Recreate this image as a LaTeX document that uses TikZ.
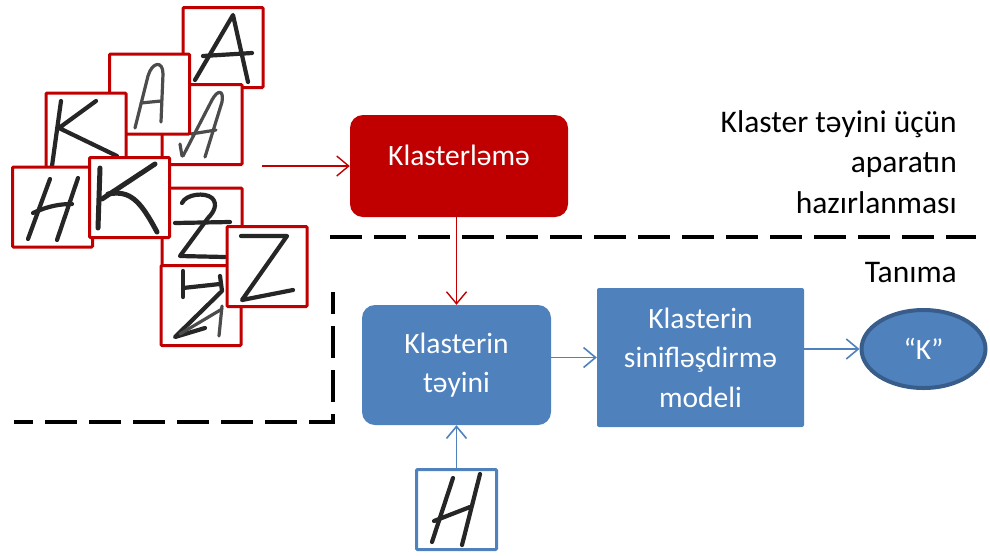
\documentclass[tikz,border=0pt]{standalone}
\usepackage{fontspec}
\setmainfont{Carlito}
\usetikzlibrary{arrows.meta,shapes.geometric}
\definecolor{boxred}{HTML}{C00000}
\definecolor{boxblue}{HTML}{4F81BD}
\definecolor{rimblue}{HTML}{385D8A}
\begin{document}
\begin{tikzpicture}[x=1pt,y=-1pt,
  every node/.style={font=\fontsize{29.5}{39.5}\selectfont},
  tile/.style={draw=boxred, line width=3pt, fill=white, minimum width=80pt,
    minimum height=80pt, inner sep=0pt, rounded corners=1pt},
  bluetile/.style={tile, draw=boxblue},
  ink/.style={line width=4.2pt, line cap=round, line join=round, black!85},
  faint ink/.style={ink, line width=3.2pt, black!70},
  redarrow/.style={draw=boxred, line width=1.4pt,
    -{Straight Barb[length=12pt,width=20pt,line width=1.4pt]}},
  bluearrow/.style={draw=boxblue, line width=1.6pt,
    -{Straight Barb[length=12pt,width=20pt,line width=1.6pt]}},
  redbox/.style={fill=boxred, rounded corners=13pt, inner sep=0pt,
    minimum width=218pt, minimum height=102pt},
  bluebox/.style={fill=boxblue, rounded corners=13pt, inner sep=0pt,
    minimum width=189pt, minimum height=120pt, text=white, align=center},
  modelbox/.style={fill=boxblue, rounded corners=2pt, inner sep=0pt,
    minimum width=207pt, minimum height=139pt, text=white, align=center},
  result/.style={ellipse, fill=boxblue, draw=rimblue, line width=4pt,
    inner sep=0pt, minimum width=124pt, minimum height=78pt, text=white},
  note/.style={inner sep=0pt, anchor=base east, align=right,
    font=\fontsize{31.5}{40.5}\selectfont},
  border/.style={line width=4.5pt, dash pattern=on 32pt off 12pt}
]
\useasboundingbox (0,0) rectangle (990,555);

% sample tiles of handwritten characters
\node[tile] (atop) at (223,47.5) {};
\draw[ink] (195,80) -- (233,15) -- (248,82);
\draw[ink] (203,56) -- (252,53);

\node[tile] (a3) at (202,124.5) {};
\draw[faint ink] (183,156) -- (212,100) .. controls (218,89) and (224,90) .. (222,102) -- (205,157);
\draw[faint ink] (191,134) -- (216,130);
\draw[faint ink] (180,144) -- (182,156);

\node[tile] (a2) at (149.5,94) {};
\draw[faint ink] (135,128) -- (148,76) .. controls (152,62) and (163,60) .. (163,74) -- (161,122);
\draw[faint ink] (141,103) -- (161,101);

\node[tile] (k1) at (86,133) {};
\draw[ink] (61,101) -- (52,166);
\draw[ink] (96,101) -- (59,128) -- (117,156);

\node[tile] (k2) at (52.5,207) {};
\draw[ink] (50,179) -- (28,239);
\draw[ink] (78,178) -- (57,240);
\draw[ink] (33,213) .. controls (48,206) and (60,204) .. (72,204);

\node[tile] (z1) at (202,228) {};
\draw[ink] (182,203) .. controls (186,194) and (205,192) .. (212,198)
  .. controls (218,204) and (214,212) .. (208,218) -- (180,256) -- (225,257);
\draw[ink] (175,223) -- (230,222);

\node[tile] (k3) at (129.5,197.5) {};
\draw[ink, line width=5pt] (100,168) -- (98,228);
\draw[ink, line width=5pt] (155,164) -- (102,199);
\draw[ink, line width=5pt] (108,194) .. controls (130,190) and (140,200) .. (157,232);

\node[tile] (z3) at (201,305.5) {};
\draw[ink] (183,271) -- (183,297);
\draw[ink] (183,288) -- (220,284);
\draw[ink] (220,276) -- (222,291) -- (175,337) -- (205,328);
\draw[faint ink] (180,334) -- (222,309);
\draw[faint ink] (222,306) -- (219,336);

\node[tile] (z2) at (267,266.5) {};
\draw[ink] (241,236) -- (287,236) -- (242,300) -- (293,290);

% clustering stage
\coordinate (src) at (262,166);
\node[redbox] (clu) at (459,166) {};
\node[inner sep=0pt, text=white] (clutext) at (459,155) {Klasterləmə};
\draw[redarrow] (src) -- (clu.west);

% recognition stage
\node[bluebox] (assign) at (456.5,365) {Klasterin\\təyini};
\node[modelbox] (model) at (700.5,357.5) {Klasterin\\sinifləşdirmə\\modeli};
\node[result] (out) at (923.5,349) {“K”};
\node[bluetile] (query) at (456.5,509.5) {};
\draw[ink] (453,478) -- (432,542);
\draw[ink] (480,474) -- (462,545);
\draw[ink] (434,521) -- (470,507);

\draw[redarrow] (clu.south -| assign.north) -- (assign.north);
\draw[bluearrow] (assign.east |- model.west) -- (model.west);
\draw[bluearrow] (model.east |- out.west) -- (out.west);
\draw[bluearrow] (query.north) -- (assign.south);

% stage boundaries
\draw[border] (330,237) -- (976,237);
\draw[border, dash phase=10pt] (333,292) -- (333,422) -- (14,422);

% stage captions
\node[note] (prep) at (957,213) {Klaster təyini üçün\\aparatın\\hazırlanması};
\node[note] (recog) at (957,282) {Tanıma};
\end{tikzpicture}
\end{document}
